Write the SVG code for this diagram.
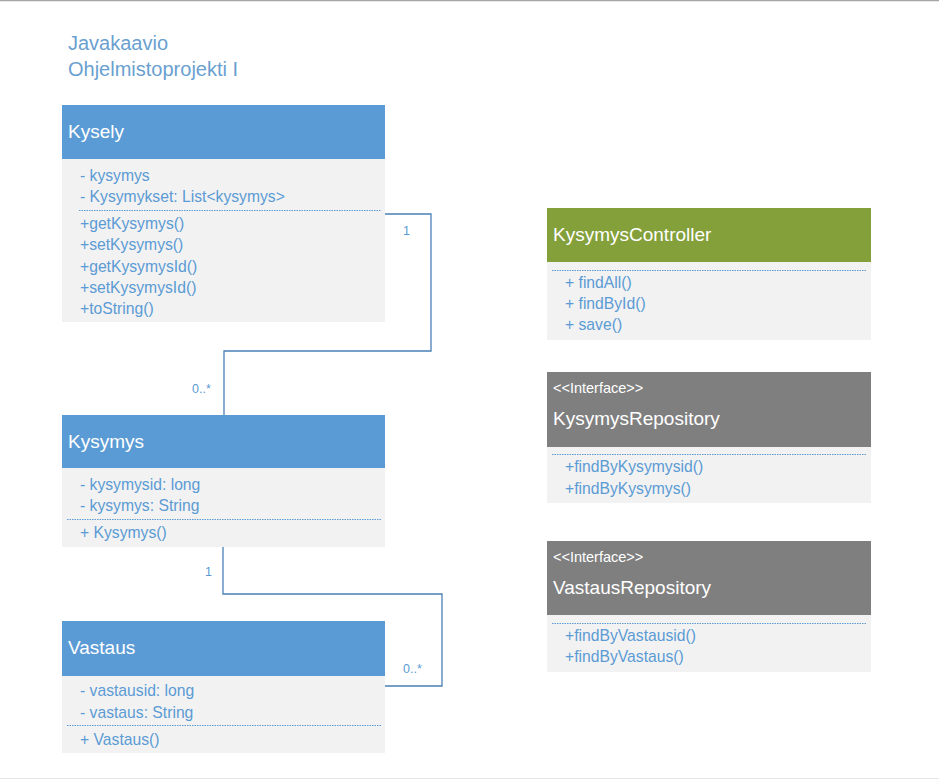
<svg xmlns="http://www.w3.org/2000/svg" width="939" height="779" viewBox="0 0 939 779">
<style>
text{font-family:"Liberation Sans","Open Sans",sans-serif}
.hb{fill:#5b9bd5}
.hg{fill:#84a03a}
.hd{fill:#7f7f7f}
.bd{fill:#f2f2f2}
.ht{fill:#ffffff;font-size:19px}
.st{fill:#ffffff;font-size:14.5px}
.t{fill:#5b9bd5;font-size:15.7px}
.sep{stroke:#5b9bd5;stroke-width:1;stroke-dasharray:1.5 1}
.c{fill:none;stroke:#4a80b6;stroke-width:1.3}
.m{fill:#5b9bd5;font-size:12.5px}
.title{fill:#6a9fd0;font-size:20px}
</style>
<rect x="0" y="0" width="939" height="779" fill="#ffffff"/>
<line x1="0" y1="0.5" x2="939" y2="0.5" stroke="#a6a6a6" stroke-width="1.5"/>
<line x1="0" y1="778.5" x2="939" y2="778.5" stroke="#e6e6e6" stroke-width="1"/>
<g id="title">
<text class="title" x="68" y="50">Javakaavio</text>
<text class="title" x="68" y="76">Ohjelmistoprojekti I</text>
</g>
<g id="connectors">
<polyline class="c" points="385,214 431,214 431,351 224,351 224,415"/>
<polyline class="c" points="223,547 223,594 442,594 442,686 385,686"/>
<text class="m" x="403" y="235">1</text>
<text class="m" x="192" y="393">0..*</text>
<text class="m" x="205" y="576">1</text>
<text class="m" x="403" y="673">0..*</text>
</g>
<g id="kysely">
<rect class="hb" x="62" y="105" width="323" height="54"/>
<rect class="bd" x="62" y="159" width="323" height="163"/>
<text class="ht" x="68" y="138">Kysely</text>
<text class="t" x="80" y="181">- kysymys</text>
<text class="t" x="80" y="202">- Kysymykset: List&lt;kysymys&gt;</text>
<line class="sep" x1="79" y1="210.5" x2="381" y2="210.5"/>
<text class="t" x="80" y="229">+getKysymys()</text>
<text class="t" x="80" y="250">+setKysymys()</text>
<text class="t" x="80" y="272">+getKysymysId()</text>
<text class="t" x="80" y="293">+setKysymysId()</text>
<text class="t" x="80" y="314">+toString()</text>
</g>
<g id="kysymys">
<rect class="hb" x="62" y="415" width="323" height="53"/>
<rect class="bd" x="62" y="468" width="323" height="79"/>
<text class="ht" x="68" y="448">Kysymys</text>
<text class="t" x="80" y="490">- kysymysid: long</text>
<text class="t" x="80" y="511">- kysymys: String</text>
<line class="sep" x1="67" y1="519.5" x2="381" y2="519.5"/>
<text class="t" x="80" y="538">+ Kysymys()</text>
</g>
<g id="vastaus">
<rect class="hb" x="62" y="621" width="323" height="55"/>
<rect class="bd" x="62" y="676" width="323" height="77"/>
<text class="ht" x="68" y="654">Vastaus</text>
<text class="t" x="80" y="696">- vastausid: long</text>
<text class="t" x="80" y="718">- vastaus: String</text>
<line class="sep" x1="67" y1="725.5" x2="381" y2="725.5"/>
<text class="t" x="80" y="745">+ Vastaus()</text>
</g>
<g id="kysymyscontroller">
<rect class="hg" x="547" y="208" width="324" height="54"/>
<rect class="bd" x="547" y="262" width="324" height="78"/>
<text class="ht" x="553" y="241">KysymysController</text>
<line class="sep" x1="552" y1="270.5" x2="866" y2="270.5"/>
<text class="t" x="565" y="288">+ findAll()</text>
<text class="t" x="565" y="309">+ findById()</text>
<text class="t" x="565" y="330">+ save()</text>
</g>
<g id="kysymysrepository">
<rect class="hd" x="547" y="372" width="324" height="75"/>
<rect class="bd" x="547" y="447" width="324" height="56"/>
<text class="st" x="553" y="393">&lt;&lt;Interface&gt;&gt;</text>
<text class="ht" x="553" y="425">KysymysRepository</text>
<line class="sep" x1="552" y1="454.5" x2="866" y2="454.5"/>
<text class="t" x="565" y="472">+findByKysymysid()</text>
<text class="t" x="565" y="494">+findByKysymys()</text>
</g>
<g id="vastausrepository">
<rect class="hd" x="547" y="541" width="324" height="74"/>
<rect class="bd" x="547" y="615" width="324" height="57"/>
<text class="st" x="553" y="562">&lt;&lt;Interface&gt;&gt;</text>
<text class="ht" x="553" y="594">VastausRepository</text>
<line class="sep" x1="552" y1="623.5" x2="866" y2="623.5"/>
<text class="t" x="565" y="641">+findByVastausid()</text>
<text class="t" x="565" y="662">+findByVastaus()</text>
</g>
</svg>
